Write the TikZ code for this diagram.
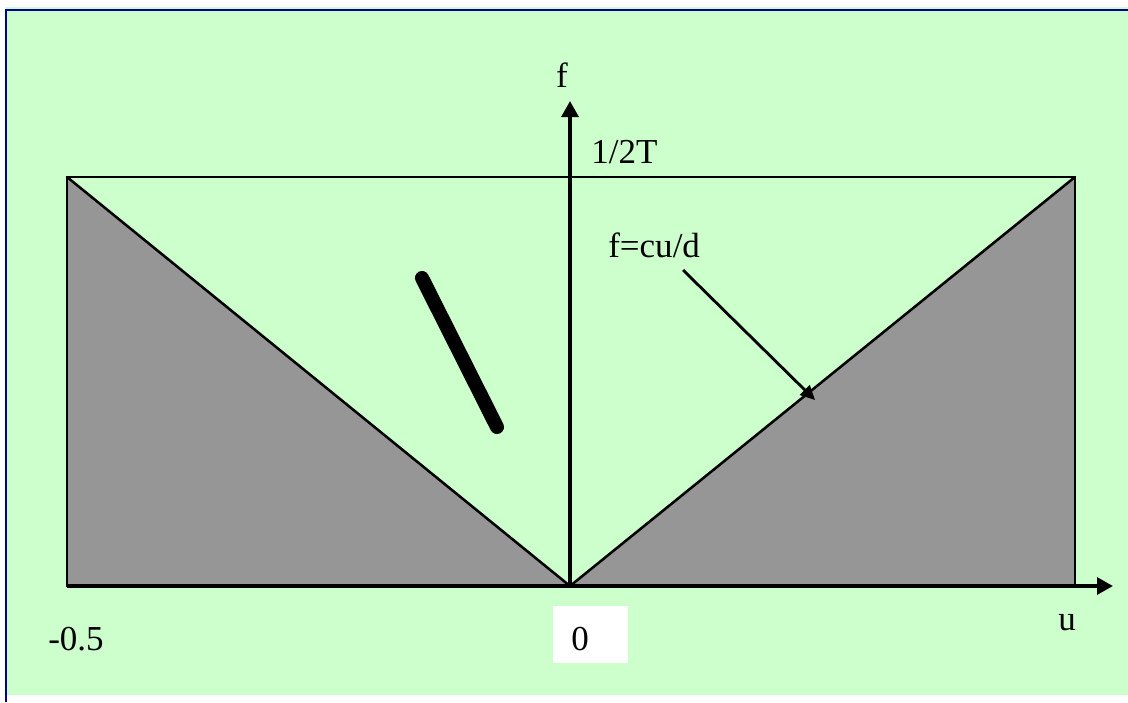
\documentclass[tikz,border=0pt]{standalone}
\usepackage{fontspec}
\setmainfont{Liberation Serif}
\usetikzlibrary{arrows.meta,calc,positioning}
\definecolor{PlotBg}{HTML}{CCFFCC}
\definecolor{PlotFrame}{HTML}{000099}
\definecolor{PlotShade}{HTML}{969696}

\begin{document}
\begin{tikzpicture}[
  x=0.025cm,y=-0.025cm,
  frameline/.style={draw=PlotFrame,line width=1.8pt},
  edge/.style={draw=black,line width=1.8pt},
  axis/.style={-{Triangle[length=0.4cm,width=0.42cm]},draw=black,line width=2.6pt},
  pointer/.style={-{Triangle[length=0.36cm,width=0.34cm]},draw=black,line width=2.0pt},
  shade/.style={fill=PlotShade,draw=none},
  lbl/.style={font=\fontsize{24.9}{30}\selectfont,inner sep=0pt,text=black},
  zerobox/.style={fill=white,draw=none,minimum width=1.875cm,minimum height=1.425cm,inner sep=0pt}
]
\useasboundingbox (0,0) rectangle (1128,702);
\fill[PlotBg] (6,7) rectangle (1128,695);
\draw[frameline] (6,702) -- (6,10) -- (1128,10);

% corners of the u-f domain
\coordinate (ul) at (67,177);
\coordinate (ur) at (1075,177);
\coordinate (ll) at (67,586);
\coordinate (lr) at (1075,586);
\coordinate (O) at (570,586);

\fill[shade] (ul) -- (ll) -- (O) -- cycle;
\fill[shade] (O) -- (lr) -- (ur) -- cycle;
\draw[edge] (ll) rectangle (ur);
\draw[edge] (ul) -- (O) -- (ur);

% axes
\coordinate (ftip) at (570,101);
\coordinate (utip) at (1113,586);
\draw[axis] (O) -- (ftip);
\draw[axis] (ll) -- (utip);

% thick segment
\coordinate (segA) at (422,278);
\coordinate (segB) at (497,427);
\draw[line width=10pt,line cap=round] (segA) -- (segB);

\node[lbl,anchor=base] (flabel) at (562,88) {f};
\node[lbl,anchor=base west] (half) at (591,163) {1/2T};
\node[lbl,anchor=base west] (slope) at (608,257) {f=cu/d};
\node[lbl,anchor=base] (ulabel) at (1067,630) {u};
\node[lbl,anchor=base west] (minus) at (48,650) {-0.5};
\node[zerobox] (zbox) at (590.5,634.5) {};
\node[lbl,anchor=base] (zero) at (580,650) {0};

\coordinate (slopeFrom) at (683,270);
\coordinate (slopeTo) at (815,400);
\draw[pointer] (slopeFrom) -- (slopeTo);

\end{tikzpicture}
\end{document}
